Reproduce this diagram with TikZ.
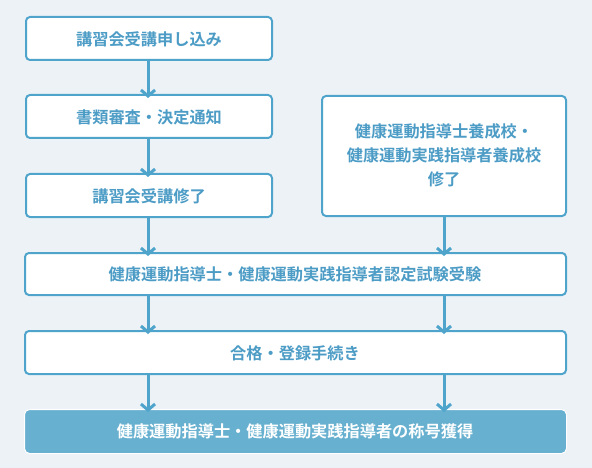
\documentclass[tikz,border=0pt]{standalone}
\usepackage{fontspec}
\newfontfamily\jp{Noto Sans CJK JP Bold}
\usetikzlibrary{arrows.meta}
\definecolor{bg}{HTML}{EDF2F7}
\definecolor{line}{HTML}{4FA4CB}
\definecolor{txt}{HTML}{4C9CC6}
\definecolor{fillb}{HTML}{67B0CF}
\tikzset{
  box/.style={draw=line, line width=2pt, fill=white, rounded corners=4pt},
  lbl/.style={font=\jp\fontsize{16.2}{24}\selectfont, text=txt, align=center},
  arr/.style={draw=line, line width=3pt, -{Straight Barb[length=6pt,width=14pt,line width=3pt]}},
}
\begin{document}
\begin{tikzpicture}[x=1pt,y=-1pt]
\fill[bg] (0,0) rectangle (592,468);
\useasboundingbox (0,0) rectangle (592,468);
% boxes
\draw[box] (26,17) rectangle (272,60);
\node[lbl] (b1) at (149,39) {講習会受講申し込み};
\coordinate (b1s) at (148,60);
\draw[box] (26,95) rectangle (272,138);
\node[lbl] (b2) at (149,117) {書類審査・決定通知};
\coordinate (b2n) at (148,95);
\coordinate (b2s) at (148,138);
\draw[box] (26,174) rectangle (272,217);
\node[lbl] (b3) at (149,196) {講習会受講修了};
\coordinate (b3n) at (148,174);
\coordinate (b3s) at (148,217);
\draw[box] (322,96) rectangle (566,216);
\node[lbl] (r1) at (444,155) {健康運動指導士養成校・\\健康運動実践指導者養成校\\修了};
\coordinate (r1s) at (444,216);
\draw[box] (25,253) rectangle (566,295);
\node[lbl] (b4) at (295,274) {健康運動指導士・健康運動実践指導者認定試験受験};
\coordinate (b4nl) at (148,253);
\coordinate (b4nr) at (444,253);
\coordinate (b4sl) at (148,295);
\coordinate (b4sr) at (444,295);
\draw[box] (25,331) rectangle (566,374);
\node[lbl] (b5) at (295,353) {合格・登録手続き};
\coordinate (b5nl) at (148,331);
\coordinate (b5nr) at (444,331);
\coordinate (b5sl) at (148,374);
\coordinate (b5sr) at (444,374);
\draw[draw=white, line width=1pt, fill=fillb, rounded corners=5pt] (24.5,409.5) rectangle (566.5,453.5);
\node[lbl, text=white] (b6) at (295,431) {健康運動指導士・健康運動実践指導者の称号獲得};
\coordinate (b6nl) at (148,409);
\coordinate (b6nr) at (444,409);
% arrows
\draw[arr] (b1s) -- ([yshift=-3pt]b2n);
\draw[arr] (b2s) -- ([yshift=-3pt]b3n);
\draw[arr] (b3s) -- ([yshift=-3pt]b4nl);
\draw[arr] (r1s) -- ([yshift=-3pt]b4nr);
\draw[arr] (b4sl) -- ([yshift=-3pt]b5nl);
\draw[arr] (b4sr) -- ([yshift=-3pt]b5nr);
\draw[arr] (b5sl) -- ([yshift=-3pt]b6nl);
\draw[arr] (b5sr) -- ([yshift=-3pt]b6nr);
\end{tikzpicture}
\end{document}
